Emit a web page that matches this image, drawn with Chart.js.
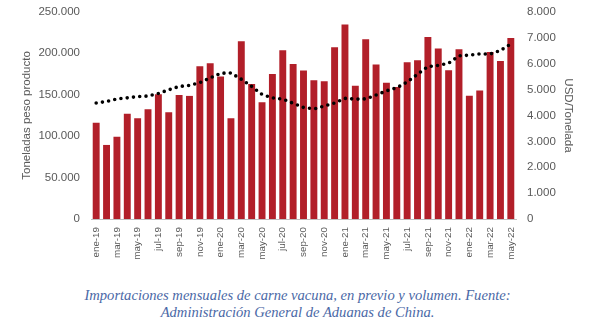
<!DOCTYPE html>
<html>
<head>
<meta charset="utf-8">
<script src="https://cdn.jsdelivr.net/npm/chart.js@4/dist/chart.umd.min.js"></script>
<style>
  html, body { margin: 0; padding: 0; background: #ffffff; }
  #wrap { position: relative; width: 595px; height: 330px; }
  #c { position: absolute; left: 0; top: -6px; }
  #cap { position: absolute; left: 0; top: 287px; width: 595px; text-align: center;
         font-family: "Liberation Serif", "DejaVu Serif", serif; font-style: italic;
         font-size: 14.6px; line-height: 17px; color: #4A68A6; }
</style>
</head>
<body>
<div id="wrap">
  <canvas id="c" width="595" height="281"></canvas>
  <div id="cap">Importaciones mensuales de carne vacuna, en previo y volumen. Fuente:<br>Administración General de Aduanas de China.</div>
</div>
<script>
const categories = [
  "ene-19","feb-19","mar-19","abr-19","may-19","jun-19","jul-19","ago-19","sep-19","oct-19","nov-19","dic-19",
  "ene-20","feb-20","mar-20","abr-20","may-20","jun-20","jul-20","ago-20","sep-20","oct-20","nov-20","dic-20",
  "ene-21","feb-21","mar-21","abr-21","may-21","jun-21","jul-21","ago-21","sep-21","oct-21","nov-21","dic-21",
  "ene-22","feb-22","mar-22","abr-22","may-22"
];
const toneladas = [
  117500, 90600, 100600, 128400, 122800, 133700, 151800, 130000, 151000, 149800, 185600, 189200,
  173100, 122800, 215800, 164300, 142100, 176300, 204900, 188400, 180500, 168700, 167500, 208500,
  235900, 162200, 218200, 187600, 165800, 160600, 190400, 192800, 221000, 206900, 180700, 206100,
  150100, 156200, 202900, 192000, 219800
];
const usdTonelada = [
  4480, 4540, 4640, 4680, 4730, 4750, 4850, 4990, 5120, 5160, 5270, 5450,
  5630, 5640, 5400, 5120, 4810, 4680, 4630, 4470, 4310, 4250, 4360, 4480,
  4660, 4630, 4640, 4790, 4950, 5070, 5290, 5590, 5890, 5930, 6020, 6300,
  6330, 6380, 6370, 6510, 6760
];
const leftTicks = { min: 0, max: 250000, step: 50000 };
const rightTicks = { min: 0, max: 8000, step: 1000 };

function fmt(v) {
  return String(Math.round(v)).replace(/\B(?=(\d{3})+(?!\d))/g, ".");
}

const gray = "#595959";
const tickFont = { family: "'Liberation Sans', Arial, sans-serif", size: 11.5 };

new Chart(document.getElementById("c"), {
  data: {
    labels: categories,
    datasets: [
      {
        type: "line",
        label: "USD/Tonelada",
        data: usdTonelada,
        yAxisID: "y2",
        borderColor: "#000000",
        borderWidth: 3.6,
        borderDash: [0, 6.3],
        borderCapStyle: "round",
        pointRadius: 0,
        tension: 0,
        fill: false,
        order: 0
      },
      {
        type: "bar",
        label: "Toneladas peso producto",
        data: toneladas,
        yAxisID: "y",
        backgroundColor: "#B21F29",
        borderColor: "rgba(255,255,255,0.35)",
        borderWidth: 1,
        barPercentage: 0.86,
        categoryPercentage: 1.0,
        order: 1
      }
    ]
  },
  options: {
    responsive: false,
    animation: false,
    devicePixelRatio: 1,
    layout: { padding: { top: 5, left: 0, right: 0, bottom: 0 } },
    plugins: { legend: { display: false }, tooltip: { enabled: false }, title: { display: false } },
    scales: {
      x: {
        type: "category",
        offset: true,
        grid: { display: false, drawTicks: false },
        border: { display: true, color: "#BFBFBF", width: 1 },
        ticks: {
          autoSkip: false, maxRotation: 90, minRotation: 90, padding: 8,
          color: gray, font: { family: "'Liberation Sans', Arial, sans-serif", size: 9.8 },
          callback: function (val, idx) { return idx % 2 === 0 ? categories[idx] : ""; }
        },
        afterFit: function (s) { s.height = 56; }
      },
      y: {
        position: "left",
        min: leftTicks.min, max: leftTicks.max,
        grid: { display: false, drawTicks: false },
        border: { display: false },
        ticks: { stepSize: leftTicks.step, padding: 11, color: gray, font: tickFont, callback: v => fmt(v) },
        title: { display: true, text: "Toneladas peso producto", color: gray, font: tickFont, padding: { top: 19.5, bottom: 0 } },
        afterFit: function (s) { s.width = 91; }
      },
      y2: {
        position: "right",
        min: rightTicks.min, max: rightTicks.max,
        grid: { display: false, drawTicks: false },
        border: { display: false },
        ticks: { stepSize: rightTicks.step, padding: 11, color: gray, font: tickFont, callback: v => fmt(v) },
        title: { display: true, text: "USD/Tonelada", color: gray, font: tickFont, padding: { top: 19.5, bottom: 0 } },
        afterFit: function (s) { s.width = 79; }
      }
    }
  }
});
</script>
</body>
</html>
